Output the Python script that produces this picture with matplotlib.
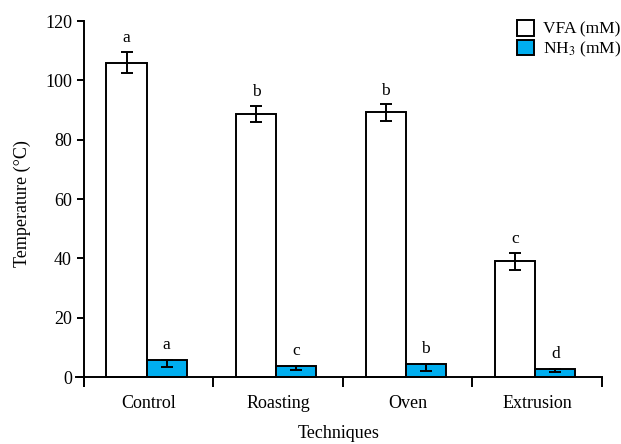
import numpy as np
import matplotlib
matplotlib.use("Agg")
import matplotlib.pyplot as plt
from matplotlib.patches import Patch

plt.rcParams["font.family"] = ["Liberation Serif", "DejaVu Serif"]
plt.rcParams["mathtext.fontset"] = "stix"

techniques = ["Control", "Roasting", "Oven", "Extrusion"]
vfa = [106.0, 88.7, 89.2, 39.0]
vfa_err = [3.6, 2.8, 2.8, 2.9]
vfa_letters = ["a", "b", "b", "c"]
nh3 = [5.7, 3.7, 4.4, 2.8]
nh3_err_low = [2.2, 1.2, 2.3, 1.1]
nh3_letters = ["a", "c", "b", "d"]

BLUE = "#00aeef"

fig = plt.figure(figsize=(6.21, 4.44), dpi=100)
ax = fig.add_axes([0.1224, 0.1306, 0.847, 0.822])

x = np.arange(len(techniques))
w = 0.31
err_kw = dict(ecolor="black", elinewidth=1.4, capsize=4, capthick=1.4)
ax.bar(x - 0.17, vfa, w, yerr=vfa_err, color="white", edgecolor="black",
       linewidth=1.4, error_kw=err_kw, label="VFA (mM)")
# NH3 bars only show the lower half of the error bar
ax.bar(x + 0.14, nh3, w, yerr=[nh3_err_low, [0] * len(nh3)], color=BLUE,
       edgecolor="black", linewidth=1.4, error_kw=err_kw, label="NH$_3$ (mM)")

# significance letters above the error bars
for xi, v, e, s in zip(x - 0.17, vfa, vfa_err, vfa_letters):
    ax.annotate(s, (xi, v + e), xytext=(0, 4), textcoords="offset points",
                ha="center", va="bottom", fontsize=12.5)
for xi, v, s in zip(x + 0.14, nh3, nh3_letters):
    ax.annotate(s, (xi, v), xytext=(0, 5), textcoords="offset points",
                ha="center", va="bottom", fontsize=12.5)

ax.set_xlim(-0.56, 3.5)
ax.set_ylim(-3, 120)
ax.spines["top"].set_visible(False)
ax.spines["right"].set_visible(False)
ax.spines["left"].set_position(("data", -0.5))
ax.spines["bottom"].set_position(("data", 0))
for sp in ("left", "bottom"):
    ax.spines[sp].set_linewidth(1.4)

ax.set_yticks(np.arange(0, 121, 20))
ax.tick_params(axis="y", length=5, width=1.4, labelsize=13, direction="out")
ax.set_xticks(x)
ax.set_xticklabels(techniques, fontsize=13)
ax.set_xticks(np.arange(-0.5, 3.6, 1.0), minor=True)
ax.tick_params(axis="x", which="major", length=0, pad=13)
ax.tick_params(axis="x", which="minor", length=7, width=1.4, direction="out")

ax.set_xlabel("Techniques", fontsize=13, labelpad=9)
ax.set_ylabel("Temperature (°C)", fontsize=13, labelpad=10)

handles = [Patch(facecolor="white", edgecolor="black", linewidth=1.4, label="VFA (mM)"),
           Patch(facecolor=BLUE, edgecolor="black", linewidth=1.4, label="NH$_3$ (mM)")]
fig.legend(handles=handles, loc="upper right", bbox_to_anchor=(1.025, 0.99),
           frameon=False, fontsize=12.5, handlelength=1.0, handleheight=1.0,
           handletextpad=0.5, labelspacing=0.1, borderpad=0.4)

fig.savefig("out.png", dpi=100)
